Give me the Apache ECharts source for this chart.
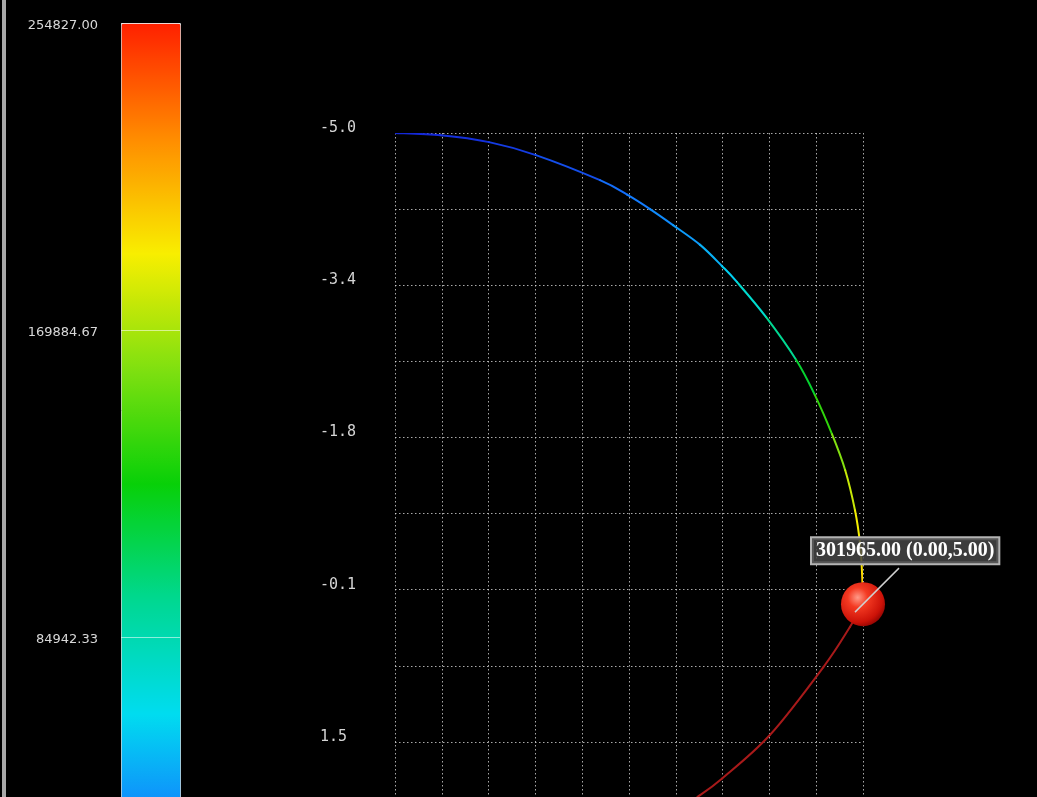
<!DOCTYPE html>
<html>
<head>
<meta charset="utf-8">
<style>html,body{margin:0;padding:0;background:#000;}#chart{width:1037px;height:797px;}</style>
<script src="https://cdn.jsdelivr.net/npm/echarts@6/dist/echarts.min.js"></script>
</head>
<body>
<div id="chart"></div>
<script>
// ---- data (grid units) ----
const yTickLabels = ['-5.0', '', '-3.4', '', '-1.8', '', '-0.1', '', '1.5', ''];
const colorbarMin = 0;
const colorbarMax = 254827;

const upperX = [0, 0.98, 2.01, 3.01, 4.38, 4.96, 5.45, 5.94, 6.52, 6.99, 7.31, 7.93, 8.57, 8.97, 9.34, 9.62, 9.83, 9.94, 9.98, 10.0];
const upperY = [0, 0.03, 0.12, 0.29, 0.62, 0.81, 1.00, 1.21, 1.47, 1.75, 1.96, 2.42, 2.98, 3.44, 3.96, 4.43, 4.96, 5.41, 5.79, 6.19];
const upperValue = [0, 3000, 8000, 15000, 28000, 33000, 38000, 43000, 50000, 60000, 75000, 95000, 118000, 138000, 160000, 178000, 190000, 196000, 200000, 205000];

const lowerX = [10.0, 9.72, 9.15, 8.01, 6.99, 6.45];
const lowerY = [6.19, 6.49, 7.02, 7.91, 8.48, 8.73];

const markerX = [10.0];
const markerY = [6.19];
const markerValue = [301965];
const markerCoordLabel = [[0, 5]];

// ---- helpers ----
function toSegments(xs, ys, vs) {
  const out = [];
  for (let i = 0; i < xs.length - 1; i++) out.push([xs[i], ys[i], xs[i + 1], ys[i + 1], vs ? vs[i] : 0, i]);
  return out;
}
function makeRender(xs, ys, fixedColor) {
  return function (params, api) {
    const i = api.value(5);
    const n = xs.length;
    const p0 = api.coord([xs[Math.max(i - 1, 0)], ys[Math.max(i - 1, 0)]]);
    const p1 = api.coord([xs[i], ys[i]]);
    const p2 = api.coord([xs[i + 1], ys[i + 1]]);
    const p3 = api.coord([xs[Math.min(i + 2, n - 1)], ys[Math.min(i + 2, n - 1)]]);
    return {
      type: 'bezierCurve',
      shape: {
        x1: p1[0], y1: p1[1], x2: p2[0], y2: p2[1],
        cpx1: p1[0] + (p2[0] - p0[0]) / 6, cpy1: p1[1] + (p2[1] - p0[1]) / 6,
        cpx2: p2[0] - (p3[0] - p1[0]) / 6, cpy2: p2[1] - (p3[1] - p1[1]) / 6
      },
      style: { stroke: fixedColor || api.visual('color'), fill: null, lineWidth: 2, lineCap: 'round' }
    };
  };
}
const dotted = { color: 'rgba(225,225,225,0.75)', width: 1, type: [1.5, 2.5] };

const chart = echarts.init(document.getElementById('chart'), null, { renderer: 'canvas' });
chart.setOption({
  backgroundColor: '#000',
  animation: false,
  graphic: [{ type: 'rect', left: 2, top: 0, shape: { width: 4, height: 797 }, style: { fill: '#a8a8a8' }, silent: true }],
  grid: [
    { left: 395, top: 133, width: 468, height: 685, outerBoundsMode: 'none', containLabel: false },
    { left: 121, top: 23, width: 59, height: 921, outerBoundsMode: 'none', containLabel: false }
  ],
  xAxis: [
    { type: 'value', gridIndex: 0, min: 0, max: 10, interval: 1,
      axisLine: { show: false }, axisTick: { show: false }, axisLabel: { show: false },
      splitLine: { show: true, lineStyle: dotted } },
    { type: 'value', gridIndex: 1, show: false, min: 0, max: 1 }
  ],
  yAxis: [
    { type: 'value', gridIndex: 0, min: 0, max: 9, interval: 1, inverse: true,
      axisLine: { show: false }, axisTick: { show: false },
      axisLabel: { formatter: v => yTickLabels[Math.round(v)] || '', align: 'left', margin: 75,
        verticalAlign: 'bottom', lineHeight: 10, fontFamily: 'DejaVu Sans Mono', fontSize: 15, color: '#d4d4d4' },
      splitLine: { show: true, lineStyle: dotted } },
    { type: 'value', gridIndex: 1, min: colorbarMin, max: colorbarMax, interval: (colorbarMax - colorbarMin) / 3, z: 10,
      axisLine: { show: false }, axisTick: { show: false },
      axisLabel: { formatter: v => v.toFixed(2), margin: 23, fontFamily: 'DejaVu Sans', fontSize: 13, color: '#d8d8d8',
        verticalAlign: 'top', lineHeight: 6 },
      splitLine: { show: true, lineStyle: { color: 'rgba(255,255,255,0.55)', width: 1 } } }
  ],
  visualMap: {
    type: 'continuous', min: colorbarMin, max: colorbarMax, dimension: 4, seriesIndex: [0],
    calculable: false, left: 121, top: 23, itemWidth: 59, itemHeight: 921, padding: 0,
    borderColor: '#d0d0d0', borderWidth: 1,
    inRange: { color: ['#1428d8', '#1478ff', '#00dcf0', '#00d890', '#08d008', '#80e010', '#f8ee00', '#ff8c00', '#ff2000'] }
  },
  series: [
    { type: 'custom', name: 'upper', xAxisIndex: 0, yAxisIndex: 0, clip: true, renderItem: makeRender(upperX, upperY),
      encode: { x: [0, 2], y: [1, 3] }, data: toSegments(upperX, upperY, upperValue), z: 3 },
    { type: 'custom', name: 'lower', xAxisIndex: 0, yAxisIndex: 0, clip: true, renderItem: makeRender(lowerX, lowerY, '#a81a1a'),
      encode: { x: [0, 2], y: [1, 3] }, data: toSegments(lowerX, lowerY, null), z: 3 },
    { type: 'custom', name: 'marker', xAxisIndex: 0, yAxisIndex: 0, z: 5,
      encode: { x: 0, y: 1 },
      data: markerX.map((x, i) => [x, markerY[i], markerValue[i], markerCoordLabel[i][0], markerCoordLabel[i][1]]),
      renderItem: function (params, api) {
        const c = api.coord([api.value(0), api.value(1)]);
        const txt = api.value(2).toFixed(2) + ' (' + api.value(3).toFixed(2) + ',' + api.value(4).toFixed(2) + ')';
        return {
          type: 'group', x: c[0], y: c[1],
          children: [
            { type: 'circle', shape: { cx: 0, cy: 0, r: 22 },
              style: { fill: new echarts.graphic.RadialGradient(0.38, 0.35, 0.75, [
                { offset: 0, color: '#ff9a88' }, { offset: 0.3, color: '#f43a22' },
                { offset: 0.75, color: '#cc1208' }, { offset: 1, color: '#7a0000' }]) } },
            { type: 'line', shape: { x1: -8, y1: 8, x2: 36, y2: -36 },
              style: { stroke: '#d0d0d0', lineWidth: 1.5 } },
            { type: 'text', x: -51, y: -66,
              style: { text: txt, fill: '#ffffff', font: 'bold 20px "Liberation Serif"',
                align: 'left', verticalAlign: 'top', backgroundColor: 'rgba(70,70,70,0.85)',
                borderColor: '#b4b4b4', borderWidth: 2, padding: [3, 4, 2, 4] } }
          ]
        };
      } }
  ]
});
</script>
</body>
</html>
